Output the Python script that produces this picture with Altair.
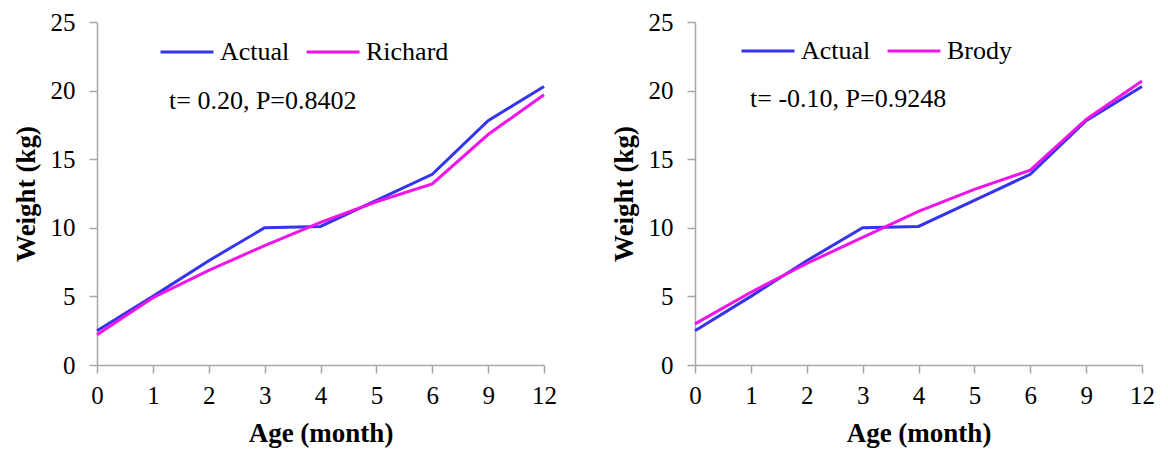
import altair as alt
import pandas as pd

ages = ["0", "1", "2", "3", "4", "5", "6", "9", "12"]
actual = [2.5, 5.0, 7.6, 10.0, 10.1, 12.0, 13.9, 17.8, 20.3]
richard = [2.2, 4.9, 6.9, 8.7, 10.4, 11.9, 13.2, 16.8, 19.7]
brody = [3.0, 5.3, 7.4, 9.3, 11.2, 12.8, 14.2, 17.9, 20.7]

left_series = ["Actual", "Richard"]
right_series = ["Actual", "Brody"]
left_note = ["t= 0.20, P=0.8402"]
right_note = ["t= -0.10, P=0.9248"]

BLUE = "#3434ec"
MAGENTA = "#f013ea"
FONT = "'Times New Roman', 'Liberation Serif', 'DejaVu Serif', serif"
GRAY = "#a6a6a6"


def frame(model_name, model_vals):
    rows = []
    for a, v in zip(ages, actual):
        rows.append({"age": a, "weight": v, "series": "Actual"})
    for a, v in zip(ages, model_vals):
        rows.append({"age": a, "weight": v, "series": model_name})
    return pd.DataFrame(rows)


def axis(title, **kw):
    return alt.Axis(
        title=title,
        labelFont=FONT,
        labelFontSize=25,
        labelColor="black",
        titleFont=FONT,
        titleFontSize=27,
        titleFontWeight="bold",
        titleColor="black",
        domainColor=GRAY,
        tickColor=GRAY,
        domainWidth=1.5,
        tickWidth=1.5,
        tickSize=8,
        grid=False,
        **kw,
    )


def panel(model_name, model_vals, series, note, legx, legy, notex, notey):
    df = frame(model_name, model_vals)
    x = alt.X(
        "age:O",
        sort=ages,
        scale=alt.Scale(type="point", padding=0),
        axis=axis("Age (month)", labelAngle=0, labelPadding=10, titlePadding=12),
    )
    y = alt.Y(
        "weight:Q",
        scale=alt.Scale(domain=[0, 25], nice=False),
        axis=axis("Weight (kg)", values=[0, 5, 10, 15, 20, 25], labelPadding=14, titlePadding=10),
    )
    lines = alt.Chart(df).mark_line(strokeWidth=3).encode(
        x=x,
        y=y,
        color=alt.Color(
            "series:N",
            scale=alt.Scale(domain=series, range=[BLUE, MAGENTA]),
            legend=alt.Legend(
                title=None,
                orient="none",
                direction="horizontal",
                legendX=legx,
                legendY=legy,
                symbolType="stroke",
                symbolSize=2800,
                symbolStrokeWidth=3,
                labelFont=FONT,
                labelFontSize=26,
                labelColor="black",
                labelOffset=5,
                columnPadding=10,
                labelLimit=300,
            ),
        ),
    )
    txt = alt.Chart(pd.DataFrame({"note": note})).mark_text(
        font=FONT, fontSize=26, align="left", baseline="middle", color="black"
    ).encode(text="note:N", x=alt.value(notex), y=alt.value(notey))
    return alt.layer(lines, txt).properties(width=447, height=343)


left = panel("Richard", richard, left_series, left_note, 62, 2, 72, 79)
right = panel("Brody", brody, right_series, right_note, 45, 1, 55, 77)

chart = (
    alt.hconcat(left, right, spacing=53)
    .resolve_scale(color="independent")
    .resolve_legend(color="independent")
    .properties(padding={"left": 12, "top": 10, "right": 5, "bottom": 5})
    .configure_view(stroke=None)
)

chart.save("out.html", embed_options={"renderer": "svg", "actions": False})
